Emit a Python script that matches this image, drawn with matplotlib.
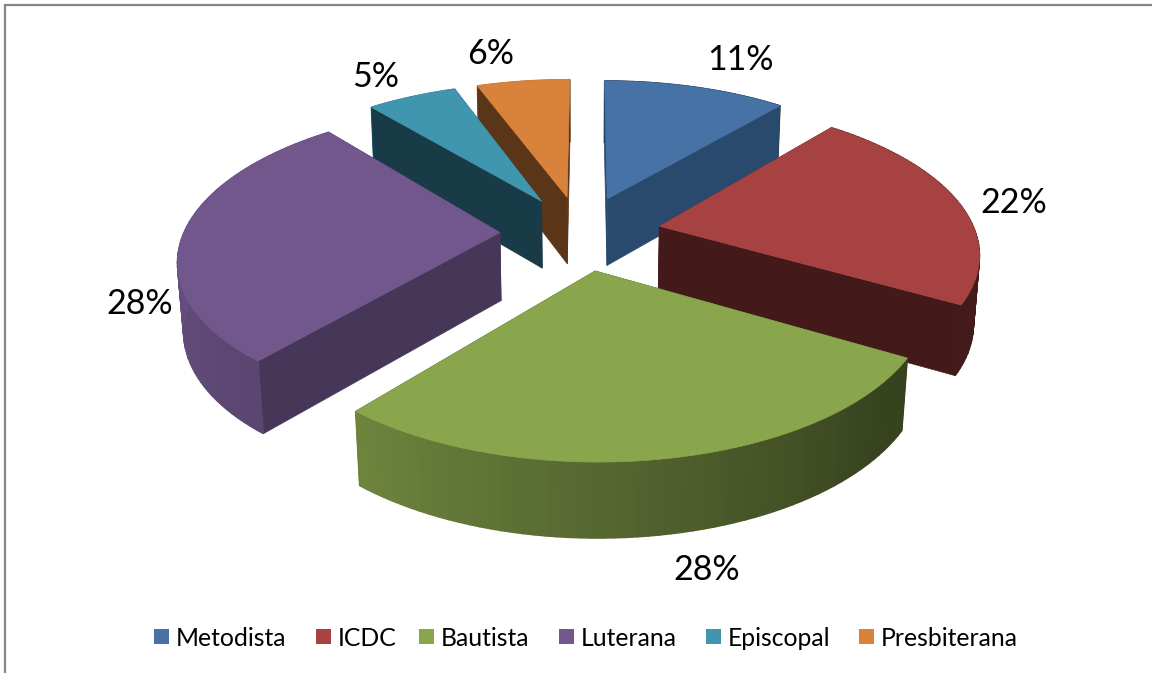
"""
Exploded 3D pie drawn by hand: each slice is projected with a small perspective
camera and painted back to front.
"""
import numpy as np
import matplotlib
matplotlib.use("Agg")
import matplotlib.pyplot as plt
from matplotlib.colors import to_rgb
from matplotlib.patches import Polygon, Rectangle

categories = ["Metodista", "ICDC", "Bautista", "Luterana", "Episcopal", "Presbiterana"]
shares = [11.1, 22.2, 27.7, 27.9, 5.45, 5.65]
top_colors = ["#4672A6", "#A64342", "#8AA64D", "#71578C", "#4096AE", "#D8823B"]
wall_colors = ["#2A4A6D", "#431A19", "#36421C", "#463658", "#193B47", "#5A3517"]

# camera / pie geometry (pixels on the 1152x673 canvas)
CX, CY = 580.5, 232.6
SCALE_X, SCALE_Y = 316, 146.7
PERSP = 0.16
EXPLODE = 0.255
DEPTH = 68
DEPTH_W = 0.015
START_DEG = 0.2


def project(x, y, z=0.0):
    w = 1 + PERSP * y
    # depth shrinks less with distance than the disc does, as in the reference
    return (CX + SCALE_X * x / (w + DEPTH_W * z),
            CY - SCALE_Y * y / w + DEPTH * z / np.sqrt(w))


def rim_shade(theta):
    # light falls from the left, the outer wall darkens towards the right
    return np.interp(theta, [0, 130, 220, 270, 360], [0.4, 0.4, 0.8, 0.9, 0.9])


plt.rcParams["font.family"] = ["Lato", "DejaVu Sans"]
fig = plt.figure(figsize=(11.52, 6.73), dpi=100)
ax = fig.add_axes([0, 0, 1, 1])
ax.set_xlim(0, 1152)
ax.set_ylim(673, 0)
ax.axis("off")

# chart frame
ax.plot([5, 5, 1152], [673, 5, 5], color="#868686", lw=1.6, solid_joinstyle="miter")

total = sum(shares)
edges = START_DEG + np.concatenate([[0], np.cumsum(shares)]) * 360.0 / total
slices = []
for i in range(len(shares)):
    a0, a1 = edges[i], edges[i + 1]
    mid = np.radians((a0 + a1) / 2)
    ox, oy = EXPLODE * np.sin(mid), EXPLODE * np.cos(mid)
    slices.append((oy, i, a0, a1, ox))

# far slices first
for oy, i, a0, a1, ox in sorted(slices, key=lambda s: -s[0]):
    thetas = np.linspace(a0, a1, 60)
    rx = ox + np.sin(np.radians(thetas))
    ry = oy + np.cos(np.radians(thetas))
    top = np.array([project(ox, oy)] + [project(a, b) for a, b in zip(rx, ry)])
    bottom = np.array([project(ox, oy, 1)] + [project(a, b, 1) for a, b in zip(rx, ry)])
    base = np.array(to_rgb(top_colors[i]))

    def rim(mask_fn):
        for k in range(1, len(thetas)):
            th = thetas[k - 1:k + 1].mean()
            if mask_fn(th % 360):
                quad = [top[k], top[k + 1], bottom[k + 1], bottom[k]]
                shade = tuple(base * rim_shade(th % 360))
                ax.add_patch(Polygon(quad, closed=True, fc=shade, ec=shade, lw=1.0))

    rim(lambda th: not 95 <= th <= 285)
    # the two cut faces, further one first
    for idx in sorted([1, len(thetas)], key=lambda n: -ry[n - 1]):
        wall = [top[0], top[idx], bottom[idx], bottom[0]]
        ax.add_patch(Polygon(wall, closed=True, fc=wall_colors[i], ec=wall_colors[i], lw=0.5))
    rim(lambda th: 95 <= th <= 285)
    ax.add_patch(Polygon(top, closed=True, fc=top_colors[i], ec=top_colors[i], lw=0.5))

label_x = [740, 1014, 707, 140, 376, 491]
label_y = [60, 203, 570, 304, 77, 54]
for s, x, y in zip(shares, label_x, label_y):
    ax.text(x, y, f"{s:.0f}%", ha="center", va="center", fontsize=24.5, color="black")

swatch_x = [154, 316, 419, 559, 706, 859]
for name, color, x in zip(categories, top_colors, swatch_x):
    ax.add_patch(Rectangle((x, 629), 15, 15, fc=color, ec="none"))
    ax.text(x + 22, 637, name, ha="left", va="center_baseline", fontsize=17.8, color="black")

fig.savefig("out.png", dpi=100)
